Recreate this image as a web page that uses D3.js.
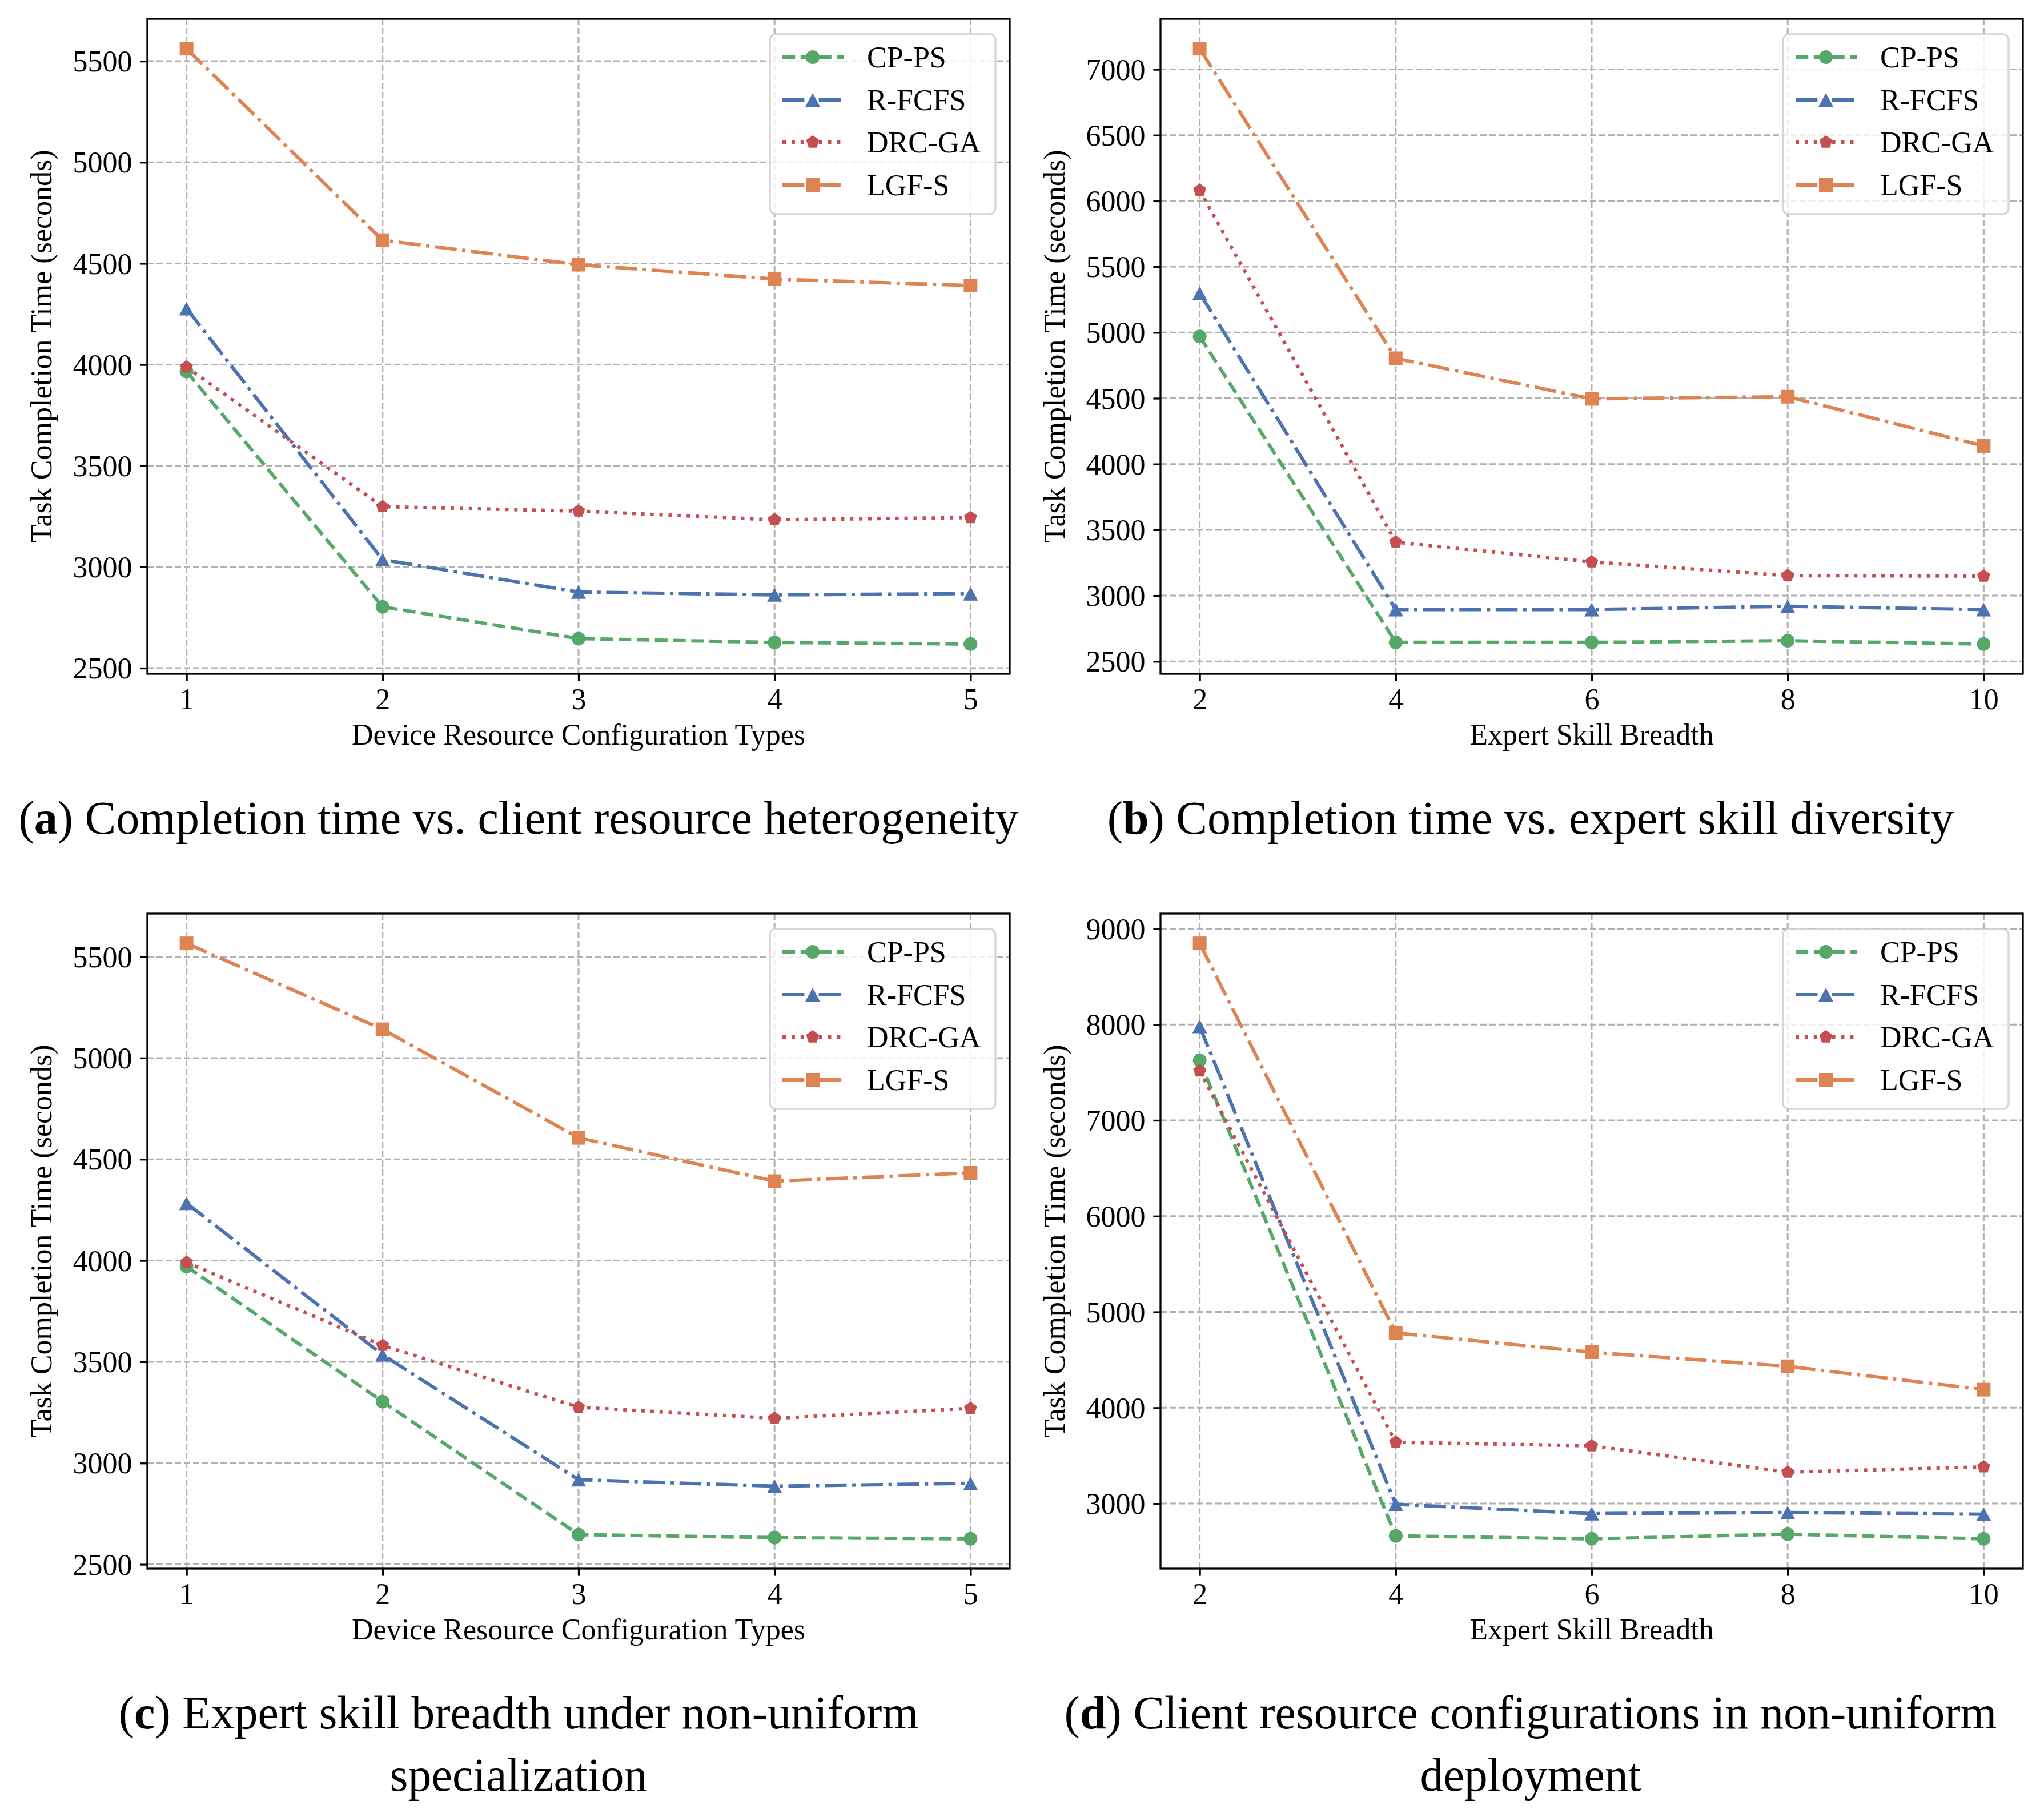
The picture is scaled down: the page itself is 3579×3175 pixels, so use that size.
<!DOCTYPE html>
<html lang="en">
<head>
<meta charset="utf-8">
<title>completion time</title>
<script src="https://cdn.jsdelivr.net/npm/d3@7"></script>
<style>
  * { margin:0; padding:0; }
  body { background:#fff; }
  svg text { font-family: "Liberation Serif", "Times New Roman", serif; fill:#000; }
</style>
</head>
<body>
<svg id="fig" width="3579" height="3175"></svg>
<script>
// ---- data ----
var methods = ["CP-PS", "R-FCFS", "DRC-GA", "LGF-S"];
var devTypes = [1, 2, 3, 4, 5];
var skillBreadth = [2, 4, 6, 8, 10];

// (a) completion time vs. client resource heterogeneity
var aCPPS  = [3966, 2803, 2646, 2627, 2619];
var aRFCFS = [4277, 3036, 2876, 2862, 2868];
var aDRCGA = [3988, 3298, 3276, 3233, 3244];
var aLGFS  = [5562, 4615, 4494, 4423, 4391];

// (b) completion time vs. expert skill diversity
var bCPPS  = [4970, 2645, 2645, 2657, 2632];
var bRFCFS = [5299, 2894, 2894, 2919, 2894];
var bDRCGA = [6081, 3406, 3256, 3152, 3148];
var bLGFS  = [7158, 4804, 4496, 4512, 4138];

// (c) expert skill breadth under non-uniform specialization
var cCPPS  = [3971, 3304, 2647, 2632, 2626];
var cRFCFS = [4283, 3535, 2918, 2886, 2900];
var cDRCGA = [3991, 3581, 3276, 3221, 3270];
var cLGFS  = [5566, 5142, 4606, 4392, 4433];

// (d) client resource configurations in non-uniform deployment
var dCPPS  = [7626, 2663, 2632, 2681, 2632];
var dRFCFS = [7980, 2993, 2895, 2907, 2889];
var dDRCGA = [7516, 3640, 3603, 3328, 3383];
var dLGFS  = [8847, 4781, 4580, 4433, 4189];

var yTicksA = [2500, 3000, 3500, 4000, 4500, 5000, 5500];
var yTicksB = [2500, 3000, 3500, 4000, 4500, 5000, 5500, 6000, 6500, 7000];
var yTicksD = [3000, 4000, 5000, 6000, 7000, 8000, 9000];

var xLabelDev = "Device Resource Configuration Types";
var xLabelSkill = "Expert Skill Breadth";
var yLabel = "Task Completion Time (seconds)";

// ---- styles ----
var lw = 6;
var styles = [
  {color: "#55a868", dash: [3.7, 1.6], marker: "circle"},
  {color: "#4c72b0", dash: [6.4, 1.6, 1, 1.6], marker: "triangle"},
  {color: "#c44e52", dash: [1, 1.65], marker: "pentagon"},
  {color: "#dd8452", dash: [6.4, 1.6, 1, 1.6], marker: "square"}
];

var W = 1510, H = 1147;
var panels = [
  {left: 258,  top: 33,   xs: devTypes,     series: [aCPPS, aRFCFS, aDRCGA, aLGFS], yTicks: yTicksA,
   xLabel: xLabelDev,   tag: "a", caption: ["Completion time vs. client resource heterogeneity"], cx: 908,  cy: 1460},
  {left: 2032, top: 33,   xs: skillBreadth, series: [bCPPS, bRFCFS, bDRCGA, bLGFS], yTicks: yTicksB,
   xLabel: xLabelSkill, tag: "b", caption: ["Completion time vs. expert skill diversity"], cx: 2680, cy: 1460},
  {left: 258,  top: 1600, xs: devTypes,     series: [cCPPS, cRFCFS, cDRCGA, cLGFS], yTicks: yTicksA,
   xLabel: xLabelDev,   tag: "c", caption: ["Expert skill breadth under non-uniform", "specialization"], cx: 908,  cy: 3027},
  {left: 2032, top: 1600, xs: skillBreadth, series: [dCPPS, dRFCFS, dDRCGA, dLGFS], yTicks: yTicksD,
   xLabel: xLabelSkill, tag: "d", caption: ["Client resource configurations in non-uniform", "deployment"], cx: 2680, cy: 3027}
];

var svg = d3.select("#fig");
svg.append("rect").attr("width", 3579).attr("height", 3175).attr("fill", "#fff");

function markerPath(kind, s) {
  var r = s / 2;
  if (kind == "circle") return d3.symbol().type(d3.symbolCircle).size(Math.PI * r * r)();
  if (kind == "square") return "M" + (-r) + "," + (-r) + "h" + s + "v" + s + "h" + (-s) + "Z";
  if (kind == "triangle") return "M0," + (-r) + "L" + (r + 1) + "," + r + "L" + (-r - 1) + "," + r + "Z";
  // pentagon
  var pts = [];
  for (var k = 0; k < 5; k++) {
    var a = -Math.PI / 2 + k * 2 * Math.PI / 5;
    pts.push([r * Math.cos(a), r * Math.sin(a)]);
  }
  return "M" + pts.map(function(p) { return p[0].toFixed(2) + "," + p[1].toFixed(2); }).join("L") + "Z";
}

function pad(ext) {
  var m = (ext[1] - ext[0]) * 0.05;
  return [ext[0] - m, ext[1] + m];
}

panels.forEach(function(p) {
  var g = svg.append("g").attr("transform", "translate(" + p.left + "," + p.top + ")");
  var x = d3.scaleLinear().domain(pad(d3.extent(p.xs))).range([0, W]);
  var yExt = d3.extent(d3.merge(p.series));
  var y = d3.scaleLinear().domain(pad(yExt)).range([H, 0]);

  // grid
  var grid = g.append("g");
  grid.selectAll("line.h").data(p.yTicks).join("line")
    .attr("x1", 0).attr("x2", W)
    .attr("y1", function(d) { return y(d); }).attr("y2", function(d) { return y(d); });
  grid.selectAll("line.v").data(p.xs).join("line")
    .attr("y1", 0).attr("y2", H)
    .attr("x1", function(d) { return x(d); }).attr("x2", function(d) { return x(d); });
  grid.selectAll("line")
    .attr("stroke", "#b0b0b0").attr("stroke-width", 3)
    .attr("stroke-dasharray", "11,5");

  // series
  p.series.forEach(function(vals, i) {
    var st = styles[i];
    var pts = p.xs.map(function(xv, j) { return [xv, vals[j]]; });
    var line = d3.line().x(function(d) { return x(d[0]); }).y(function(d) { return y(d[1]); });
    g.append("path").datum(pts)
      .attr("d", line)
      .attr("fill", "none")
      .attr("stroke", st.color)
      .attr("stroke-width", lw)
      .attr("stroke-dasharray", st.dash.map(function(v) { return v * lw; }).join(","));
    g.selectAll("path.m" + i).data(pts).join("path")
      .attr("class", "m" + i)
      .attr("transform", function(d) { return "translate(" + x(d[0]) + "," + y(d[1]) + ")"; })
      .attr("d", markerPath(st.marker, 24))
      .attr("fill", st.color);
  });

  // spines
  g.append("rect").attr("width", W).attr("height", H)
    .attr("fill", "none").attr("stroke", "#000").attr("stroke-width", 3.3);

  // axes
  var yAxis = d3.axisLeft(y).tickValues(p.yTicks).tickSize(12.6).tickPadding(14).tickFormat(d3.format("d"));
  var xAxis = d3.axisBottom(x).tickValues(p.xs).tickSize(12.6).tickPadding(14).tickFormat(d3.format("d"));
  var ya = g.append("g").call(yAxis);
  var xa = g.append("g").attr("transform", "translate(0," + H + ")").call(xAxis);
  [ya, xa].forEach(function(a) {
    a.select(".domain").remove();
    a.selectAll(".tick line").attr("stroke", "#000").attr("stroke-width", 3.3);
    a.selectAll(".tick text").attr("font-size", 52).attr("font-family", "Liberation Serif");
  });
  ya.selectAll(".tick text").attr("dy", "0.34em");
  xa.selectAll(".tick text").attr("dy", null).attr("y", 62);

  // axis labels
  g.append("text").attr("x", W / 2).attr("y", H + 124)
    .attr("text-anchor", "middle").attr("font-size", 52).text(p.xLabel);
  g.append("text").attr("transform", "translate(-168," + (H / 2) + ") rotate(-90)")
    .attr("text-anchor", "middle").attr("font-size", 52).text(yLabel);

  // legend
  var lg = g.append("g").attr("transform", "translate(" + (W - 420) + ",27)");
  lg.append("rect").attr("width", 395).attr("height", 315).attr("rx", 10)
    .attr("fill", "#fff").attr("fill-opacity", 0.8)
    .attr("stroke", "#cccccc").attr("stroke-opacity", 0.8).attr("stroke-width", 3.3);
  var rowY = [40, 115, 189, 264];
  methods.forEach(function(name, i) {
    var st = styles[i];
    var row = lg.append("g").attr("transform", "translate(0," + rowY[i] + ")");
    row.append("line").attr("x1", 22).attr("x2", 129)
      .attr("stroke", st.color).attr("stroke-width", lw)
      .attr("stroke-dasharray", st.dash.map(function(v) { return v * lw; }).join(","));
    row.append("path").attr("transform", "translate(75,0)")
      .attr("d", markerPath(st.marker, 24)).attr("fill", st.color);
    row.append("text").attr("x", 170).attr("y", 18).attr("font-size", 52).text(name);
  });

  // caption
  p.caption.forEach(function(txt, k) {
    var t = svg.append("text").attr("x", p.cx).attr("y", p.cy + k * 109)
      .attr("text-anchor", "middle").attr("font-size", 82);
    if (k == 0) {
      t.append("tspan").text("(");
      t.append("tspan").attr("font-weight", "bold").text(p.tag);
      t.append("tspan").text(") " + txt);
    } else {
      t.text(txt);
    }
  });
});
</script>
</body>
</html>
